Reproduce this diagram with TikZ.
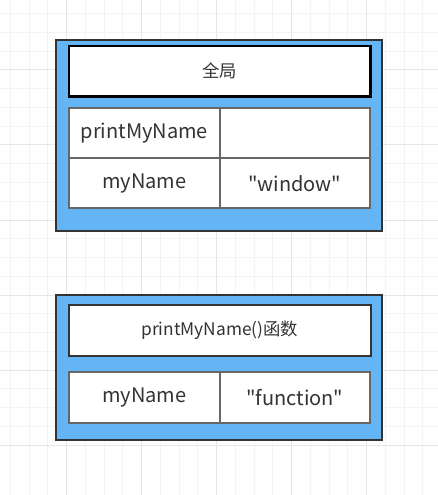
\documentclass[tikz,border=0pt]{standalone}
\usepackage{fontspec}
\newfontfamily\diafont{Noto Sans CJK SC}
\definecolor{gridminor}{HTML}{F3F3F3}
\definecolor{gridmajor}{HTML}{E6E6E6}
\definecolor{panelblue}{RGB}{100,181,246}
\definecolor{darkline}{HTML}{333333}
\definecolor{cellline}{HTML}{666666}
\definecolor{txt}{HTML}{333333}
\tikzset{
  panel/.style={draw=darkline, line width=1.5pt, fill=panelblue, inner sep=0pt},
  titlebox/.style={draw=black, line width=2.2pt, fill=white, inner sep=0pt, text=txt, font=\diafont\fontsize{13pt}{15pt}\selectfont},
  titlebox2/.style={draw=darkline, line width=1.6pt, fill=white, inner sep=0pt, text=txt, font=\diafont\fontsize{13pt}{15pt}\selectfont},
  cell/.style={draw=cellline, line width=1.5pt, fill=white, inner sep=0pt, text=txt, font=\diafont\fontsize{15pt}{18pt}\selectfont, minimum width=112.9pt},
}
\begin{document}
\begin{tikzpicture}[x=0.75pt,y=-0.75pt]
\useasboundingbox (0,0) rectangle (438,495);
\fill[white] (0,0) rectangle (438,495);
% grid
\foreach \i in {0,...,24} {
  \pgfmathsetmacro{\gx}{-8.3+18.75*\i}
  \draw[gridminor, line width=0.75pt] (\gx,0) -- (\gx,495);
  \pgfmathsetmacro{\gy}{-5+18.75*\i}
  \draw[gridminor, line width=0.75pt] (0,\gy) -- (438,\gy);
}
\foreach \i in {0,...,6} {
  \pgfmathsetmacro{\gx}{-8.3+75*\i}
  \draw[gridmajor, line width=0.75pt] (\gx,0) -- (\gx,495);
  \pgfmathsetmacro{\gy}{-5+75*\i}
  \draw[gridmajor, line width=0.75pt] (0,\gy) -- (438,\gy);
}
% panel 1
\node[panel, minimum width=244.5pt, minimum height=143.25pt] (outerA) at (219,135.5) {};
\node[titlebox, minimum width=226.1pt, minimum height=37.9pt] (titleA) at (219.75,71.25) {全局};
\node[cell, minimum height=37.9pt] (a11) at (144.35,133) {printMyName};
\node[cell, minimum height=37.9pt] (a12) at (294.85,133) {};
\node[cell, minimum height=37.5pt] (a21) at (144.35,183.3) {myName};
\node[cell, minimum height=37.5pt] (a22) at (294.85,183.3) {"window"};
% panel 2
\node[panel, minimum width=244.5pt, minimum height=108.75pt] (outerB) at (219,367.5) {};
\node[titlebox2, minimum width=226.3pt, minimum height=38pt] (titleB) at (219.85,330.35) {printMyName()函数};
\node[cell, minimum height=38.7pt] (b11) at (144.35,397.5) {myName};
\node[cell, minimum height=38.7pt] (b12) at (294.85,397.5) {"function"};
\end{tikzpicture}
\end{document}
